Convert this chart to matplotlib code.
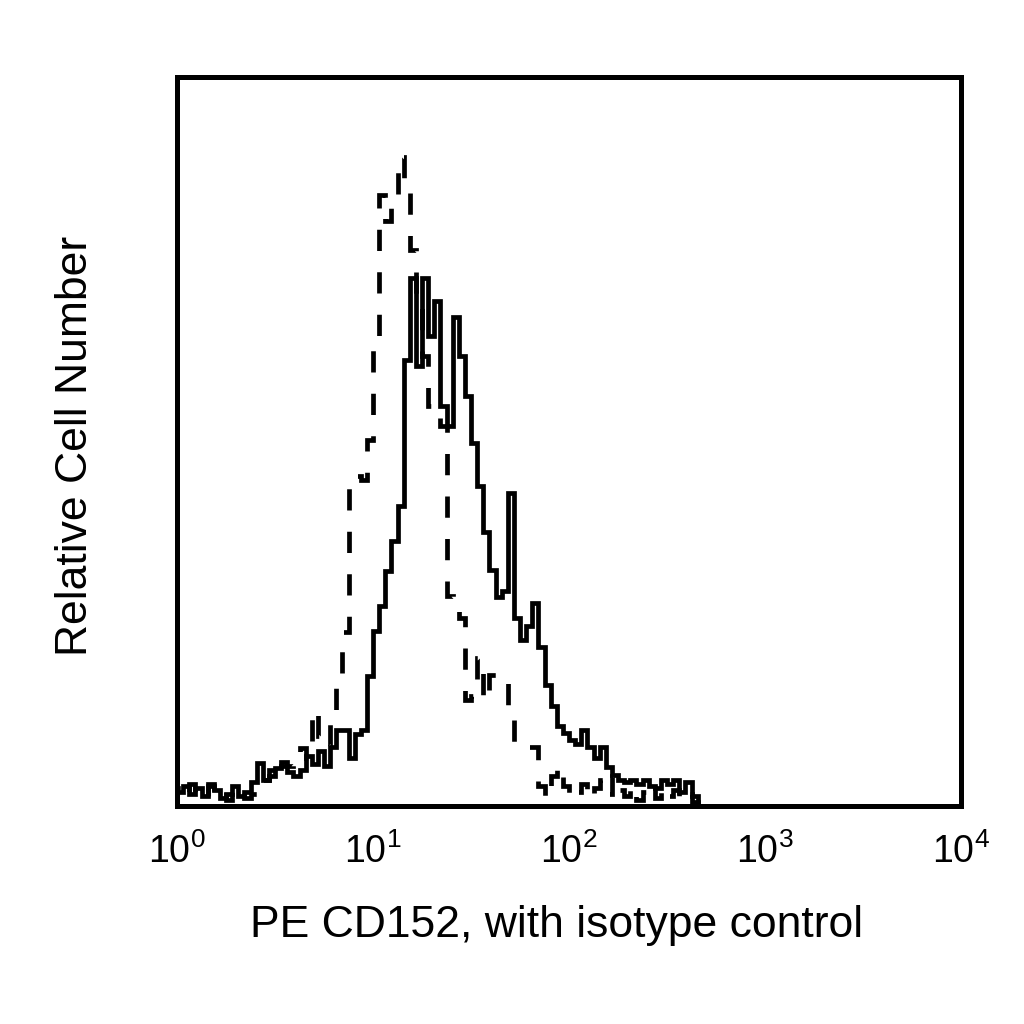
import numpy as np
import matplotlib
matplotlib.use("Agg")
import matplotlib.pyplot as plt

plt.rcParams['font.family'] = ['Liberation Sans', 'DejaVu Sans']
plt.rcParams['mathtext.default'] = 'regular'

# 128 log-spaced channels from 10^0 to 10^4
n_bins = 128
decades = 4

cd152_counts = [
    14, 20, 12, 18, 10, 22, 16, 8, 12, 20, 10, 14, 24,
    43, 26, 30, 38, 40, 34, 30,
    36, 50, 42, 55, 40, 59, 76,
    76, 48, 72, 76,
    130, 175, 200, 235, 265, 300, 446, 528, 440, 528,
    470, 505, 400, 380, 489, 450, 410, 363, 320, 274,
    236, 209, 215, 313, 188, 166, 180, 203, 159, 121,
    100, 80, 73, 66, 62, 76, 59, 48, 59, 39, 31,
    26, 24, 26, 22, 26, 20, 18, 26, 22, 26, 14, 24, 10,
] + [0] * 43

isotype_counts = [
    18, 10, 22, 14, 8, 20, 12, 16, 6, 18, 14, 8, 12,
    20, 26, 36, 30, 44, 40, 50, 58, 48,
    96, 70, 60, 93, 126, 174,
    326, 330, 326, 366, 456, 611, 585, 611, 649, 616, 556,
    500, 450, 400, 390, 380,
    210, 203, 188, 106, 110, 148, 106, 131, 131, 131, 92,
    59, 59, 59, 59, 20, 8, 30, 40,
    20, 8, 14, 22, 8, 18, 26, 12, 30, 16, 10, 20, 6, 14, 22, 8, 18, 10, 16, 6, 12, 4,
] + [0] * 43

xtick_values = [1, 10, 100, 1000, 10000]
xtick_labels = [r'$10^{0}$', r'$10^{1}$', r'$10^{2}$', r'$10^{3}$', r'$10^{4}$']

edges = 10 ** (np.arange(n_bins + 1) * decades / n_bins)

fig = plt.figure(figsize=(10.24, 10.24), dpi=100)
ax = fig.add_axes([177 / 1024, 1 - 806 / 1024, (961 - 177) / 1024, (806 - 77) / 1024])

ax.stairs(isotype_counts, edges, color='black', linewidth=3.4,
          linestyle=(0, (4.5, 4.5)), baseline=0)
ax.stairs(cd152_counts, edges, color='black', linewidth=3.4, baseline=0)

ax.set_xscale('log')
ax.set_xlim(1, 10000)
ax.set_ylim(0, 729)
ax.set_xticks(xtick_values)
ax.set_xticklabels(xtick_labels)
ax.minorticks_off()
ax.set_yticks([])
ax.tick_params(axis='x', length=0, pad=20, labelsize=27)
for s in ax.spines.values():
    s.set_linewidth(3.6)

ax.set_xlabel('PE CD152, with isotype control', fontsize=32)
ax.set_ylabel('Relative Cell Number', fontsize=32, labelpad=58)
ax.xaxis.set_label_coords(0.484, -0.136)
ax.yaxis.label.set_position((0, 0.494))

fig.savefig('out.png', dpi=100)
